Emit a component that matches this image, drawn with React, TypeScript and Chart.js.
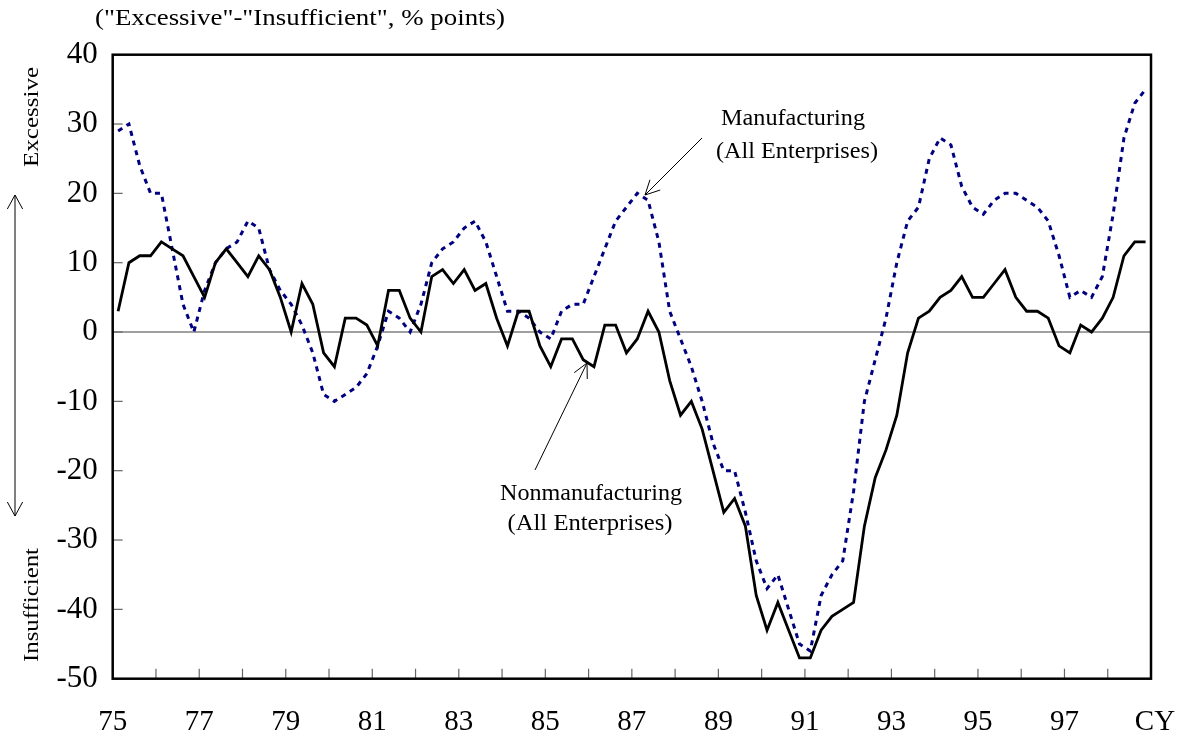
import { useEffect, useRef } from 'react';
import { Chart, registerables } from 'chart.js';

Chart.register(...registerables);

// Quarterly data, 1975Q1 .. 1998Q4 (96 quarters)
const START_YEAR = 75;
const END_YEAR = 99;

const nonmanufacturing: number[] = [
  3, 10, 11, 11,      // 75
  13, 12, 11, 8,      // 76
  5, 10, 12, 10,      // 77
  8, 11, 9, 5,        // 78
  0, 7, 4, -3,        // 79
  -5, 2, 2, 1,        // 80
  -2, 6, 6, 2,        // 81
  0, 8, 9, 7,         // 82
  9, 6, 7, 2,         // 83
  -2, 3, 3, -2,       // 84
  -5, -1, -1, -4,     // 85
  -5, 1, 1, -3,       // 86
  -1, 3, 0, -7,       // 87
  -12, -10, -14, -20, // 88
  -26, -24, -28, -38, // 89
  -43, -39, -43, -47, // 90
  -47, -43, -41, -40, // 91
  -39, -28, -21, -17, // 92
  -12, -3, 2, 3,      // 93
  5, 6, 8, 5,         // 94
  5, 7, 9, 5,         // 95
  3, 3, 2, -2,        // 96
  -3, 1, 0, 2,        // 97
  5, 11, 13, 13,      // 98
];

const manufacturing: number[] = [
  29, 30, 24, 20,     // 75
  20, 12, 4, 0,       // 76
  6, 10, 12, 13,      // 77
  16, 15, 9, 6,       // 78
  4, 1, -3, -9,       // 79
  -10, -9, -8, -6,    // 80
  -2, 3, 2, 0,        // 81
  4, 10, 12, 13,      // 82
  15, 16, 13, 8,      // 83
  3, 3, 2, 0,         // 84
  -1, 3, 4, 4,        // 85
  8, 12, 16, 18,      // 86
  20, 19, 13, 3,      // 87
  -1, -5, -10, -16,   // 88
  -20, -20, -26, -33, // 89
  -37, -35, -40, -45, // 90
  -46, -38, -35, -33, // 91
  -23, -10, -4, 2,    // 92
  10, 16, 18, 25,     // 93
  28, 27, 21, 18,     // 94
  17, 19, 20, 20,     // 95
  19, 18, 16, 11,     // 96
  5, 6, 5, 8,         // 97
  17, 28, 33, 35,     // 98
];

const yearLabels: string[] = ['75', '77', '79', '81', '83', '85', '87', '89', '91', '93', '95', '97'];
const yTickMin = -50;
const yTickMax = 40;
const yTickStep = 10;

const titleText = '("Excessive"-"Insufficient", % points)';
const mfgLabel = ['Manufacturing', '(All Enterprises)'];
const nonMfgLabel = ['Nonmanufacturing', '(All Enterprises)'];

const SERIF = "'Liberation Serif', 'Times New Roman', serif";

function toPoints(values: number[]) {
  return values.map((v, i) => ({ x: START_YEAR + (i + 0.5) / 4, y: v }));
}

function fitText(
  ctx: CanvasRenderingContext2D,
  text: string,
  cx: number,
  cy: number,
  width: number,
  size: number,
  rotate = 0
) {
  ctx.save();
  ctx.font = `${size}px ${SERIF}`;
  ctx.fillStyle = '#000';
  ctx.textAlign = 'center';
  ctx.textBaseline = 'middle';
  const w = ctx.measureText(text).width;
  ctx.translate(cx, cy);
  if (rotate) ctx.rotate(rotate);
  ctx.scale(width / w, 1);
  ctx.fillText(text, 0, 0);
  ctx.restore();
}

function arrowHead(ctx: CanvasRenderingContext2D, tx: number, ty: number, fx: number, fy: number, len: number, ang: number) {
  const a = Math.atan2(fy - ty, fx - tx);
  ctx.beginPath();
  ctx.moveTo(tx + len * Math.cos(a + ang), ty + len * Math.sin(a + ang));
  ctx.lineTo(tx, ty);
  ctx.lineTo(tx + len * Math.cos(a - ang), ty + len * Math.sin(a - ang));
  ctx.stroke();
}

function arrow(ctx: CanvasRenderingContext2D, fx: number, fy: number, tx: number, ty: number) {
  ctx.beginPath();
  ctx.moveTo(fx, fy);
  ctx.lineTo(tx, ty);
  ctx.stroke();
  arrowHead(ctx, tx, ty, fx, fy, 16, 0.47);
}

const decorPlugin = {
  id: 'decor',
  beforeDatasetsDraw(chart: any) {
    const { ctx, chartArea: a, scales } = chart;
    const xs = scales.x;
    const ys = scales.y;
    ctx.save();
    // zero line
    const y0 = ys.getPixelForValue(0);
    ctx.strokeStyle = '#808080';
    ctx.lineWidth = 1.6;
    ctx.beginPath();
    ctx.moveTo(a.left, y0);
    ctx.lineTo(a.right, y0);
    ctx.stroke();
    // inner tick marks
    ctx.strokeStyle = '#666';
    ctx.lineWidth = 1.2;
    for (let v = yTickMin + yTickStep; v < yTickMax; v += yTickStep) {
      const py = ys.getPixelForValue(v);
      ctx.beginPath();
      ctx.moveTo(a.left, py);
      ctx.lineTo(a.left + 10, py);
      ctx.stroke();
    }
    for (let yr = START_YEAR + 1; yr < END_YEAR; yr++) {
      const px = xs.getPixelForValue(yr);
      ctx.beginPath();
      ctx.moveTo(px, a.bottom);
      ctx.lineTo(px, a.bottom - 10);
      ctx.stroke();
    }
    ctx.restore();
  },
  afterDatasetsDraw(chart: any) {
    const { ctx, chartArea: a } = chart;
    ctx.save();
    // frame
    ctx.strokeStyle = '#000';
    ctx.lineWidth = 2.5;
    ctx.strokeRect(a.left, a.top, a.right - a.left, a.bottom - a.top);

    // title
    fitText(ctx, titleText, 300, 19, 410, 23);

    // series annotations
    fitText(ctx, mfgLabel[0], 793, 119, 144, 24);
    fitText(ctx, mfgLabel[1], 797, 152, 162, 24);
    fitText(ctx, nonMfgLabel[0], 591, 494, 182, 24);
    fitText(ctx, nonMfgLabel[1], 590, 524, 165, 24);

    ctx.strokeStyle = '#000';
    ctx.lineWidth = 1;
    arrow(ctx, 702, 138, 645, 195);
    arrow(ctx, 535, 470, 587, 363);

    // left side labels
    fitText(ctx, 'Excessive', 32, 117, 100, 22, -Math.PI / 2);
    fitText(ctx, 'Insufficient', 32, 605, 114, 22, -Math.PI / 2);
    ctx.beginPath();
    ctx.moveTo(15, 195);
    ctx.lineTo(15, 516);
    ctx.stroke();
    arrowHead(ctx, 15, 195, 15, 260, 16, 0.5);
    arrowHead(ctx, 15, 516, 15, 450, 16, 0.5);

    // calendar-year marker
    ctx.font = `29px ${SERIF}`;
    ctx.fillStyle = '#000';
    ctx.textAlign = 'center';
    ctx.textBaseline = 'middle';
    ctx.fillText('CY', 1155, 722);
    ctx.restore();
  },
};

export default function App() {
  const canvasRef = useRef<HTMLCanvasElement | null>(null);

  useEffect(() => {
    const canvas = canvasRef.current;
    if (!canvas) return;
    const chart = new Chart(canvas, {
      type: 'line',
      data: {
        datasets: [
          {
            label: 'Nonmanufacturing (All Enterprises)',
            data: toPoints(nonmanufacturing),
            borderColor: '#000000',
            borderWidth: 2.8,
            pointRadius: 0,
            tension: 0,
            fill: false,
          },
          {
            label: 'Manufacturing (All Enterprises)',
            data: toPoints(manufacturing),
            borderColor: '#000080',
            borderWidth: 3,
            borderDash: [5, 5],
            borderCapStyle: 'butt',
            pointRadius: 0,
            tension: 0,
            fill: false,
          },
        ],
      },
      options: {
        animation: false,
        responsive: false,
        events: [],
        layout: { padding: { left: 0, top: 54.7, right: 6.3, bottom: 0 } },
        plugins: {
          legend: { display: false },
          title: { display: false },
          tooltip: { enabled: false },
        },
        scales: {
          x: {
            type: 'linear',
            min: START_YEAR,
            max: END_YEAR,
            grid: { display: false, drawTicks: false },
            border: { display: false },
            ticks: {
              stepSize: 1,
              autoSkip: false,
              maxRotation: 0,
              padding: 26,
              color: '#000',
              font: { family: SERIF, size: 29 },
              callback: (v: any) => (yearLabels.includes(String(v)) ? String(v) : ''),
            },
            afterFit: (s: any) => {
              s.height = 62.3;
            },
          },
          y: {
            type: 'linear',
            min: yTickMin,
            max: yTickMax,
            grid: { display: false, drawTicks: false },
            border: { display: false },
            ticks: {
              stepSize: yTickStep,
              padding: 15,
              color: '#000',
              font: { family: SERIF, size: 31 },
            },
            afterFit: (s: any) => {
              s.width = 112.7;
            },
          },
        },
      },
      plugins: [decorPlugin],
    });
    return () => chart.destroy();
  }, []);

  return (
    <div style={{ position: 'absolute', left: 0, top: 0, width: 1177, height: 741, background: '#fff' }}>
      <canvas ref={canvasRef} width={1177} height={741} style={{ display: 'block' }} />
    </div>
  );
}
